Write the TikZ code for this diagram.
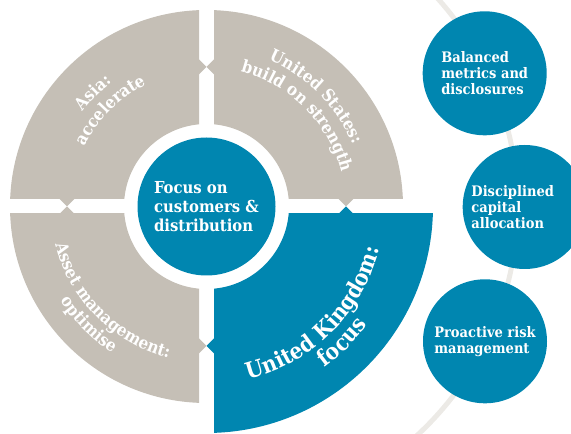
\documentclass[tikz,border=0pt]{standalone}
\usepackage{fontspec}
\setmainfont{DejaVu Serif Condensed}
\usetikzlibrary{decorations.text}

\definecolor{wheelblue}{RGB}{0,134,176}
\definecolor{wheelgrey}{RGB}{197,191,182}
\definecolor{arcgrey}{RGB}{236,234,230}

\newcommand{\greytext}{\fontsize{17}{20}\selectfont\bfseries\color{white}}
\newcommand{\uktext}{\fontsize{22.5}{26}\selectfont\bfseries\color{white}}

\begin{document}
\begin{tikzpicture}[x=1pt, y=1pt,
  quad/.style={fill=wheelgrey, even odd rule},
  ukquad/.style={fill=wheelblue, even odd rule},
  tab/.style={fill=wheelgrey},
  uktab/.style={fill=wheelblue},
  hubdot/.style={circle, fill=wheelblue, minimum size=138pt, inner sep=0pt, text=white, align=left, font=\fontsize{16.5}{19}\selectfont\bfseries},
  bluedot/.style={circle, fill=wheelblue, minimum size=124pt, inner sep=0pt},
  dottext/.style={text=white, align=left, font=\fontsize{14.5}{16}\selectfont\bfseries},
  curved/.style={decorate, decoration={text along path, text align=center, text={#1}}}]

\useasboundingbox (0,0) rectangle (571,434);
\clip (0,0) rectangle (571,434);

% faint arc behind the three circles
\draw[arcgrey, line width=5pt] (206.5,227.5) ++(50:311) arc (50:-50:311);

% wheel
\begin{scope}
\clip (0,235) rectangle (199,434);
\fill[quad] (206.5,227.5) circle (196.5) (206.5,227.5) circle (82.5);
\end{scope}
\begin{scope}
\clip (214,235) rectangle (434,434);
\fill[quad] (206.5,227.5) circle (196.5) (206.5,227.5) circle (82.5);
\end{scope}
\begin{scope}
\clip (0,0) rectangle (199,220);
\fill[quad] (206.5,227.5) circle (196.5) (206.5,227.5) circle (82.5);
\end{scope}
\begin{scope}
\clip (214,0) rectangle (460,220);
\fill[ukquad] (206.5,227.5) circle (226.5) (206.5,227.5) circle (82.5);
\end{scope}

\fill[tab] (199,359.5) -- (206.5,367) -- (199,374.5) -- cycle;
\fill[tab] (214,359.5) -- (206.5,367) -- (214,374.5) -- cycle;
\fill[tab] (338.5,235) -- (346,227.5) -- (353.5,235) -- cycle;
\fill[uktab] (338.5,220) -- (346,227.5) -- (353.5,220) -- cycle;
\fill[uktab] (214,80.5) -- (206.5,88) -- (214,95.5) -- cycle;
\fill[tab] (199,80.5) -- (206.5,88) -- (199,95.5) -- cycle;
\fill[tab] (59.5,220) -- (67,227.5) -- (74.5,220) -- cycle;
\fill[tab] (59.5,235) -- (67,227.5) -- (74.5,235) -- cycle;

\path[curved={|\greytext|Asia:}] (206.5,227.5) ++(180:156) arc (180:90:156);
\path[curved={|\greytext|accelerate}] (206.5,227.5) ++(180:136) arc (180:90:136);
\path[curved={|\greytext|United States:}] (206.5,227.5) ++(90:159) arc (90:0:159);
\path[curved={|\greytext|build on strength}] (206.5,227.5) ++(90:139) arc (90:0:139);
\path[curved={|\greytext|Asset management:}] (206.5,227.5) ++(180:156) arc (180:270:156);
\path[curved={|\greytext|optimise}] (206.5,227.5) ++(180:174) arc (180:270:174);
\path[curved={|\uktext|United Kingdom:}] (206.5,227.5) ++(270:178) arc (270:360:178);
\path[curved={|\uktext|focus}] (206.5,227.5) ++(270:200) arc (270:360:200);

\node[hubdot] (hub) at (206.5,227.5) {Focus on\\customers \&\\distribution};

\node[bluedot] (balanced) at (484.7,360.7) {};
\node[bluedot] (disciplined) at (524.7,227) {};
\node[bluedot] (proactive) at (485,92.7) {};

\node[dottext] (balancedtext) at (balanced.center) {Balanced\\metrics and\\disclosures};
\node[dottext] (disciplinedtext) at ([xshift=-12pt]disciplined.center) {Disciplined\\capital\\allocation};
\node[dottext] (proactivetext) at (proactive.center) {Proactive risk\\management};

\end{tikzpicture}
\end{document}
